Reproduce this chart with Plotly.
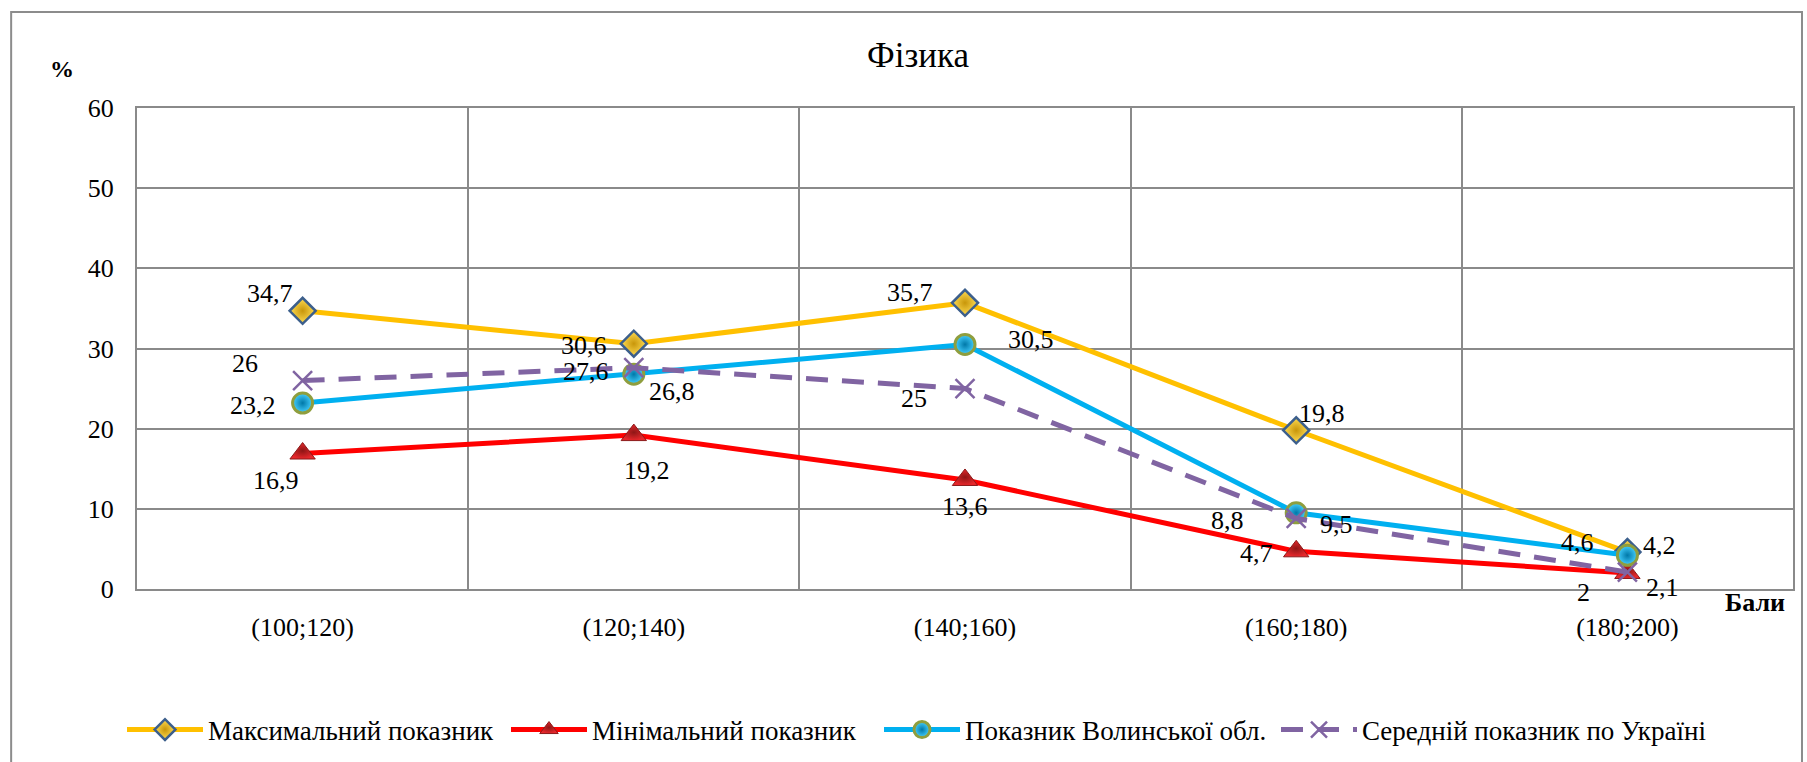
import plotly.graph_objects as go

# Score ranges (x categories) and the share of participants in each range, %
categories = ["(100;120)", "(120;140)", "(140;160)", "(160;180)", "(180;200)"]
max_vals = [34.7, 30.6, 35.7, 19.8, 4.6]        # Максимальний показник
min_vals = [16.9, 19.2, 13.6, 4.7, 2]           # Мінімальний показник
volyn_vals = [23.2, 26.8, 30.5, 9.5, 4.2]       # Показник Волинської обл.
ukraine_vals = [26, 27.6, 25, 8.8, 2.1]         # Середній показник по Україні
y_ticks = [0, 10, 20, 30, 40, 50, 60]

W, H = 1807, 762
L, R, T, B = 137, 1795, 108, 589   # plot-area edges in px
FONT = "Liberation Serif, Times New Roman, DejaVu Serif, serif"
GRID = "#8a8a8a"


def px_to_paper(px, py):
    return (px - L) / (R - L), (B - py) / (B - T)


series = [
    dict(name="Максимальний показник", y=max_vals, color="#FFC000", dash="solid",
         marker=dict(symbol="diamond", size=20, color="#FFDD55",
                     gradient=dict(type="radial", color="#C8960A"),
                     line=dict(color="#3C5F8C", width=2.5)),
         offsets=[(-33, -17), (-50, 2), (-55, -10), (26, -17), (-50, -10)],
         legend_x=122),
    dict(name="Мінімальний показник", y=min_vals, color="#FF0000", dash="solid",
         marker=dict(symbol="triangle-up", size=22, color="#E8282C",
                     gradient=dict(type="radial", color="#8E1616"),
                     line=dict(color="#8B1A1A", width=1)),
         offsets=[(-27, 27), (13, 35), (0, 27), (-40, 2), (-44, 20)],
         legend_x=506),
    dict(name="Показник Волинської обл.", y=volyn_vals, color="#00B0F0", dash="solid",
         marker=dict(symbol="circle", size=20, color="#45D0FF",
                     gradient=dict(type="radial", color="#0078A8"),
                     line=dict(color="#8F9E3E", width=3)),
         offsets=[(-50, 2), (38, 17), (66, -5), (40, 12), (32, -10)],
         legend_x=879),
    dict(name="Середній показник по Україні", y=ukraine_vals, color="#8064A2",
         dash="22px,14px",
         marker=dict(symbol="x-thin", size=19, color="#8064A2",
                     line=dict(color="#8064A2", width=2.5)),
         offsets=[(-58, -17), (-48, 4), (-51, 10), (-69, 2), (35, 15)],
         legend_x=1276),
]

fig = go.Figure()
annotations = []
legend_layout = {}
for i, s in enumerate(series):
    legend_id = "legend" if i == 0 else f"legend{i + 1}"
    fig.add_trace(go.Scatter(
        x=categories, y=s["y"], name=s["name"], mode="lines+markers",
        line=dict(color=s["color"], width=5, dash=s["dash"]),
        marker=s["marker"], cliponaxis=False, legend=legend_id, showlegend=True,
    ))
    legend_layout[legend_id] = dict(
        orientation="h", xref="container", yref="container",
        x=s["legend_x"] / W, y=1 - 730 / H, xanchor="left", yanchor="middle",
        font=dict(family=FONT, size=27, color="black"), itemwidth=76,
        bgcolor="rgba(0,0,0,0)",
    )
    for cat, val, (dx, dy) in zip(categories, s["y"], s["offsets"]):
        annotations.append(dict(
            x=cat, y=val, xref="x", yref="y", text=f"{val:g}".replace(".", ","),
            showarrow=False, xshift=dx, yshift=-dy, xanchor="center", yanchor="middle",
            font=dict(family=FONT, size=26, color="black"),
        ))

# axis captions
ax, ay = px_to_paper(62, 69)
annotations.append(dict(x=ax, y=ay, xref="paper", yref="paper", text="<b>%</b>",
                        xanchor="center", yanchor="middle", showarrow=False,
                        font=dict(family=FONT, size=24, color="black")))
bx, by = px_to_paper(1757, 602)
annotations.append(dict(x=bx, y=by, xref="paper", yref="paper", text="<b>Бали</b>",
                        xanchor="center", yanchor="middle", showarrow=False,
                        font=dict(family=FONT, size=26, color="black")))

# outer chart frame
x0, y0 = px_to_paper(11, 772)
x1, y1 = px_to_paper(1804, 12)
shapes = [dict(type="rect", xref="paper", yref="paper", x0=x0, y0=y0, x1=x1, y1=y1,
               line=dict(color="#8c8c8c", width=2), layer="below")]

fig.update_layout(
    width=W, height=H,
    margin=dict(l=L, r=W - R, t=T, b=H - B),
    paper_bgcolor="white", plot_bgcolor="white",
    showlegend=True,
    font=dict(family=FONT, size=26, color="black"),
    title=dict(text="Фізика", x=918 / W, xref="container", xanchor="center",
               y=1 - 55 / H, yref="container", yanchor="middle",
               font=dict(family=FONT, size=35, color="black")),
    xaxis=dict(type="category", range=[-0.5, len(categories) - 0.5],
               tickson="boundaries", showgrid=True, gridcolor=GRID,
               gridwidth=2, showline=True, linecolor=GRID, linewidth=2, mirror=True,
               ticks="", ticklabelstandoff=14, tickfont=dict(family=FONT, size=26)),
    yaxis=dict(range=[0, 60], tickvals=y_ticks, showgrid=True, gridcolor=GRID,
               gridwidth=2, zeroline=True, zerolinecolor=GRID, zerolinewidth=2,
               showline=True, linecolor=GRID, linewidth=2, mirror=True,
               ticks="", ticklabelstandoff=16, tickfont=dict(family=FONT, size=26)),
    annotations=annotations,
    shapes=shapes,
    **legend_layout,
)

fig.write_html("out.html")
